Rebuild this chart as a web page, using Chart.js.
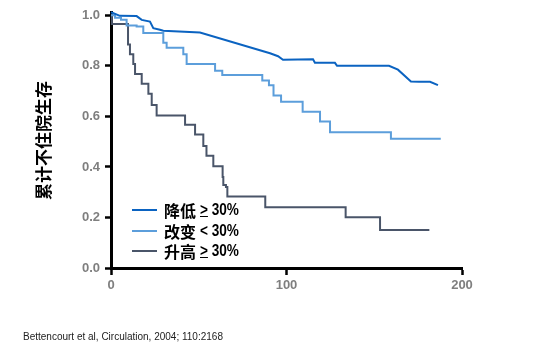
<!DOCTYPE html>
<html lang="zh">
<head>
    <meta charset="UTF-8">
    <title>累计不住院生存</title>
    <script src="https://cdn.jsdelivr.net/npm/chart.js"></script>
    <style>
        body { margin: 0; background: #fff; }
        #wrap { position: relative; width: 557px; height: 348px; }
        #legend { position: absolute; left: 132px; top: 200px; font-weight: bold; color: #000; }
        .row { height: 20.5px; display: flex; align-items: center; }
        .swatch { width: 25px; height: 0; border-top: 2.5px solid; margin-right: 7px; }
        .row span.t { font: bold 16px "Noto Sans CJK SC", sans-serif; }
        .row span.n { font: bold 16px "Liberation Sans", Arial, sans-serif; margin-left: 4px;
                      display: inline-block; transform: scaleX(0.85); transform-origin: left center; white-space: pre; }
        #note { position: absolute; left: 23px; top: 331px; font: 10px "Liberation Sans", Arial, sans-serif; color: #222; }
    </style>
</head>
<body>
<div id="wrap">
    <canvas id="kmChart" width="557" height="348"></canvas>
    <div id="legend"></div>
    <div id="note">Bettencourt et al, Circulation, 2004; 110:2168</div>
</div>
<script>
    // 天数 / 生存率
    const tLow  = [0, 5.1, 14.6, 17.5, 22.2, 24.1, 27.9, 29.8, 50.7, 90.6, 95.2, 98.0, 115.1, 116.2, 127.6, 128.8, 158.4, 163.5, 170.9, 175.5, 181.8, 186.3];
    const sLow  = [1.012, 0.998, 0.997, 0.982, 0.975, 0.949, 0.943, 0.939, 0.932, 0.850, 0.838, 0.824, 0.826, 0.812, 0.812, 0.800, 0.800, 0.785, 0.738, 0.737, 0.737, 0.724];

    const tSame = [0, 2.3, 5.7, 8.9, 14.6, 18.4, 29.8, 31.7, 41.2, 43.1, 59.3, 63.4, 86.2, 90.0, 92.6, 96.9, 109.2, 119.1, 124.8, 159.5, 187.9];
    const sSame = [1.0, 0.99, 0.982, 0.960, 0.956, 0.930, 0.891, 0.872, 0.846, 0.807, 0.781, 0.764, 0.742, 0.723, 0.683, 0.658, 0.618, 0.580, 0.537, 0.512, 0.512];

    const tHigh = [0, 0.5, 9.7, 10.8, 12.7, 13.7, 17.5, 21.3, 23.2, 26.0, 42.2, 47.9, 52.6, 54.4, 58.3, 63.6, 64.0, 65.5, 66.3, 87.9, 133.7, 153.3, 181.4];
    const sHigh = [1.0, 0.966, 0.885, 0.846, 0.807, 0.768, 0.729, 0.690, 0.645, 0.604, 0.567, 0.528, 0.483, 0.444, 0.403, 0.360, 0.328, 0.321, 0.283, 0.240, 0.201, 0.150, 0.150];

    const groupNames = ['降低', '改变', '升高'];
    const groupSigns = ['≥', '<', '≥'];
    const groupColors = ['#0b63c1', '#5c9edb', '#4a5569'];
    const xTicks = [0, 100, 200];
    const yTicks = [0, 0.2, 0.4, 0.6, 0.8, 1.0];
    const yTitle = '累计不住院生存';

    function pts(t, s) {
        return t.map((v, i) => ({ x: v, y: s[i] }));
    }

    const series = [pts(tLow, sLow), pts(tSame, sSame), pts(tHigh, sHigh)];
    const stepped = [false, 'before', 'before'];

    const ctx = document.getElementById('kmChart').getContext('2d');
    const chart = new Chart(ctx, {
        type: 'line',
        data: {
            datasets: series.map((d, i) => ({
                label: groupNames[i] + ' ' + groupSigns[i] + ' 30%',
                data: d,
                borderColor: groupColors[i],
                borderWidth: 2,
                pointRadius: 0,
                stepped: stepped[i],
                tension: 0,
                clip: false
            }))
        },
        options: {
            responsive: false,
            animation: false,
            layout: { padding: { top: 0, right: 95, bottom: 0, left: 0 } },
            plugins: { legend: { display: false }, tooltip: { enabled: false } },
            scales: {
                x: {
                    type: 'linear',
                    min: 0,
                    max: 200,
                    afterBuildTicks: (s) => { s.ticks = xTicks.map(v => ({ value: v })); },
                    afterFit: (s) => { s.height = 80; },
                    grid: { drawOnChartArea: false, color: '#000', tickLength: 7, tickWidth: 2.5 },
                    border: { color: '#000', width: 3 },
                    ticks: { color: '#7f7f7f', padding: 3, font: { family: 'Liberation Sans', size: 13, weight: 'bold' } }
                },
                y: {
                    min: 0,
                    max: 1.01,
                    afterBuildTicks: (s) => { s.ticks = yTicks.map(v => ({ value: v })); },
                    afterFit: (s) => { s.width = 111; },
                    grid: { drawOnChartArea: false, color: '#000', tickLength: 6, tickWidth: 2.5 },
                    border: { color: '#000', width: 3 },
                    ticks: {
                        color: '#7f7f7f', padding: 5,
                        font: { family: 'Liberation Sans', size: 13, weight: 'bold' },
                        callback: (v) => v.toFixed(1)
                    },
                    title: {
                        display: true, text: yTitle, color: '#000',
                        padding: { top: 33, bottom: 0 },
                        font: { family: 'Noto Sans CJK SC', size: 17, weight: 'bold' }
                    }
                }
            }
        }
    });

    // 图例放在绘图区内
    const legend = document.getElementById('legend');
    groupNames.forEach((name, i) => {
        const row = document.createElement('div');
        row.className = 'row';
        const sign = groupSigns[i] === '≥' ? '<u>&gt;</u>' : '&lt;';
        row.innerHTML = '<div class="swatch" style="border-color:' + groupColors[i] + '"></div>' +
            '<span class="t">' + name + '</span><span class="n">' + sign + ' 30%</span>';
        legend.appendChild(row);
    });
</script>
</body>
</html>
